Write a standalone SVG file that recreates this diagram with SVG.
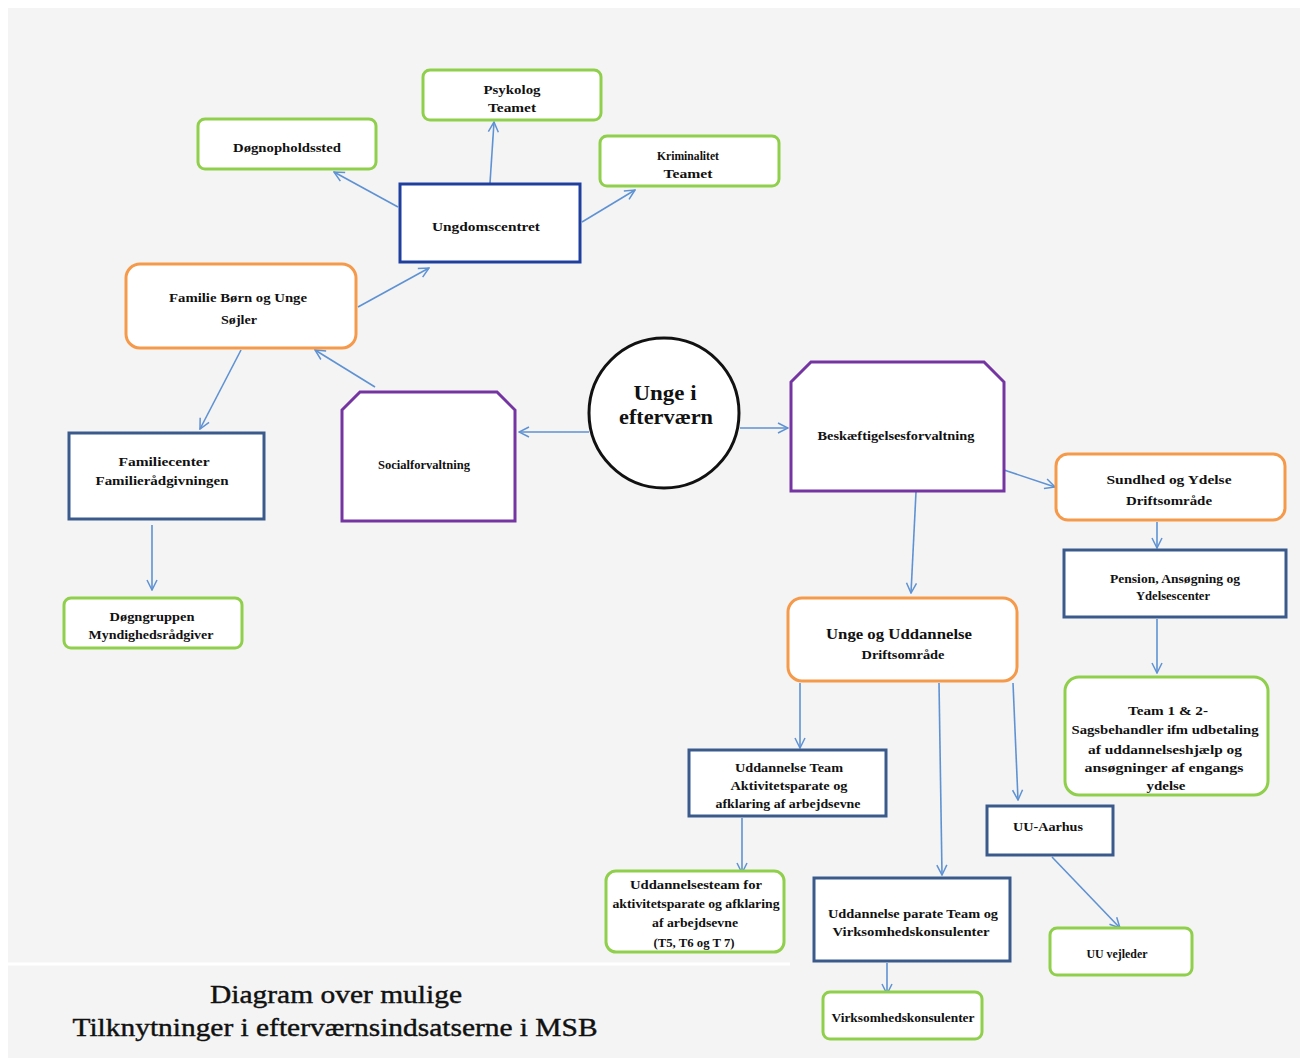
<svg xmlns="http://www.w3.org/2000/svg" width="1306" height="1061" viewBox="0 0 1306 1061">
  <defs>
    <marker id="arr" viewBox="0 0 12 12" refX="11" refY="6" markerWidth="12" markerHeight="12" markerUnits="userSpaceOnUse" orient="auto">
      <path d="M1,1 L11,6 L1,11" fill="none" stroke="#5f92d3" stroke-width="1.5"/>
    </marker>
    <style>
      .bg { fill: #f4f4f4; }
      .green { fill: #ffffff; stroke: #8fcf4c; stroke-width: 3; }
      .orange { fill: #ffffff; stroke: #f59a4a; stroke-width: 3; }
      .purple { fill: #ffffff; stroke: #7434a2; stroke-width: 3; }
      .navy { fill: #ffffff; stroke: #1f3f9e; stroke-width: 3; }
      .steel { fill: #ffffff; stroke: #3a5a8c; stroke-width: 3; }
      .circ { fill: #ffffff; stroke: #111111; stroke-width: 3; }
      text { font-family: "Liberation Serif", "Times New Roman", serif; font-weight: bold; font-size: 13px; fill: #111111; text-anchor: middle; }
      .big { font-size: 20px; }
      .mid { font-size: 15px; }
      .title { font-size: 25px; font-weight: normal; stroke: #111111; stroke-width: 0.4; }
      .conn line, .conn path { stroke: #5f92d3; stroke-width: 1.6; fill: none; marker-end: url(#arr); }
    </style>
  </defs>

  <!-- page background -->
  <rect x="0" y="0" width="1306" height="1061" fill="#ffffff"/>
  <rect class="bg" x="8" y="8" width="1292" height="1050"/>
  <line x1="8" y1="964" x2="790" y2="964" stroke="#ffffff" stroke-width="3"/>

  <!-- connectors -->
  <g id="connectors" class="conn">
    <line x1="398" y1="207" x2="334" y2="172"/>
    <line x1="490" y1="183" x2="494" y2="122"/>
    <line x1="582" y1="222" x2="635" y2="190"/>
    <line x1="358" y1="307" x2="429" y2="268"/>
    <line x1="375" y1="387" x2="315" y2="350"/>
    <line x1="241" y1="350" x2="200" y2="429"/>
    <line x1="152" y1="525" x2="152" y2="590"/>
    <line x1="589" y1="432" x2="519" y2="432"/>
    <line x1="740" y1="428" x2="788" y2="428"/>
    <line x1="1004" y1="470" x2="1055" y2="487"/>
    <line x1="916" y1="492" x2="911" y2="593"/>
    <line x1="1157" y1="522" x2="1157" y2="548"/>
    <line x1="1157" y1="619" x2="1157" y2="673"/>
    <line x1="800" y1="683" x2="800" y2="748"/>
    <line x1="939" y1="683" x2="942" y2="875"/>
    <line x1="1013" y1="683" x2="1018" y2="800"/>
    <line x1="742" y1="818" x2="742" y2="873"/>
    <line x1="887" y1="963" x2="887" y2="994"/>
    <line x1="1052" y1="857" x2="1120" y2="928"/>
  </g>

  <!-- nodes -->
  <g id="doegnophold">
    <rect class="green" x="198" y="119" width="178" height="50" rx="7"/>
    <text x="287" y="152" textLength="108" lengthAdjust="spacingAndGlyphs">Døgnopholdssted</text>
  </g>
  <g id="psykolog">
    <rect class="green" x="423" y="70" width="178" height="50" rx="7"/>
    <text x="512" y="94" textLength="57" lengthAdjust="spacingAndGlyphs">Psykolog</text>
    <text x="512" y="112" textLength="48" lengthAdjust="spacingAndGlyphs">Teamet</text>
  </g>
  <g id="kriminalitet">
    <rect class="green" x="600" y="136" width="179" height="50" rx="7"/>
    <text x="688" y="160" textLength="62" lengthAdjust="spacingAndGlyphs">Kriminalitet</text>
    <text x="688" y="178" textLength="49" lengthAdjust="spacingAndGlyphs">Teamet</text>
  </g>
  <g id="ungdomscentret">
    <rect class="navy" x="400" y="184" width="180" height="78"/>
    <text x="486" y="231" textLength="108" lengthAdjust="spacingAndGlyphs">Ungdomscentret</text>
  </g>
  <g id="familie">
    <rect class="orange" x="126" y="264" width="230" height="84" rx="14"/>
    <text x="238" y="302" textLength="138" lengthAdjust="spacingAndGlyphs">Familie  Børn  og Unge</text>
    <text x="239" y="324" textLength="36" lengthAdjust="spacingAndGlyphs">Søjler</text>
  </g>
  <g id="socialforvaltning">
    <path class="purple" d="M342,410 L360,392 L497,392 L515,410 L515,521 L342,521 Z"/>
    <text x="424" y="469" textLength="92" lengthAdjust="spacingAndGlyphs">Socialforvaltning</text>
  </g>
  <g id="familiecenter">
    <rect class="steel" x="69" y="433" width="195" height="86"/>
    <text x="164" y="466" textLength="91" lengthAdjust="spacingAndGlyphs">Familiecenter</text>
    <text x="162" y="485" textLength="133" lengthAdjust="spacingAndGlyphs">Familierådgivningen</text>
  </g>
  <g id="doegngruppen">
    <rect class="green" x="64" y="598" width="178" height="50" rx="7"/>
    <text x="152" y="621" textLength="85" lengthAdjust="spacingAndGlyphs">Døgngruppen</text>
    <text x="151" y="639" textLength="125" lengthAdjust="spacingAndGlyphs">Myndighedsrådgiver</text>
  </g>
  <g id="unge-i-eftervaern">
    <circle class="circ" cx="664" cy="413" r="75"/>
    <text class="big" x="665" y="400" textLength="63" lengthAdjust="spacingAndGlyphs">Unge  i</text>
    <text class="big" x="666" y="424" textLength="94" lengthAdjust="spacingAndGlyphs">efterværn</text>
  </g>
  <g id="beskaeftigelse">
    <path class="purple" d="M791,382 L811,362 L984,362 L1004,382 L1004,491 L791,491 Z"/>
    <text x="896" y="440" textLength="157" lengthAdjust="spacingAndGlyphs">Beskæftigelsesforvaltning</text>
  </g>
  <g id="sundhed">
    <rect class="orange" x="1056" y="454" width="229" height="66" rx="12"/>
    <text x="1169" y="484" textLength="125" lengthAdjust="spacingAndGlyphs">Sundhed  og  Ydelse</text>
    <text x="1169" y="505" textLength="86" lengthAdjust="spacingAndGlyphs">Driftsområde</text>
  </g>
  <g id="pension">
    <rect class="steel" x="1064" y="550" width="222" height="67"/>
    <text x="1175" y="583" textLength="130" lengthAdjust="spacingAndGlyphs">Pension, Ansøgning  og</text>
    <text x="1173" y="600" textLength="74" lengthAdjust="spacingAndGlyphs">Ydelsescenter</text>
  </g>
  <g id="team12">
    <rect class="green" x="1065" y="677" width="203" height="118" rx="14"/>
    <text x="1168" y="715" textLength="80" lengthAdjust="spacingAndGlyphs">Team 1 &amp; 2-</text>
    <text x="1165" y="734" textLength="187" lengthAdjust="spacingAndGlyphs">Sagsbehandler   ifm udbetaling</text>
    <text x="1165" y="754" textLength="154" lengthAdjust="spacingAndGlyphs">af uddannelseshjælp   og</text>
    <text x="1164" y="772" textLength="159" lengthAdjust="spacingAndGlyphs">ansøgninger   af  engangs</text>
    <text x="1166" y="790" textLength="39" lengthAdjust="spacingAndGlyphs">ydelse</text>
  </g>
  <g id="unge-uddannelse">
    <rect class="orange" x="788" y="598" width="229" height="83" rx="14"/>
    <text class="mid" x="899" y="639" textLength="146" lengthAdjust="spacingAndGlyphs">Unge  og  Uddannelse</text>
    <text x="903" y="659" textLength="83" lengthAdjust="spacingAndGlyphs">Driftsområde</text>
  </g>
  <g id="uddannelse-team">
    <rect class="steel" x="689" y="750" width="197" height="66"/>
    <text x="789" y="772" textLength="108" lengthAdjust="spacingAndGlyphs">Uddannelse Team</text>
    <text x="789" y="790" textLength="117" lengthAdjust="spacingAndGlyphs">Aktivitetsparate og</text>
    <text x="788" y="808" textLength="145" lengthAdjust="spacingAndGlyphs">afklaring af arbejdsevne</text>
  </g>
  <g id="uddannelsesteam">
    <rect class="green" x="606" y="871" width="178" height="81" rx="10"/>
    <text x="696" y="889" textLength="132" lengthAdjust="spacingAndGlyphs">Uddannelsesteam for</text>
    <text x="696" y="908" textLength="167" lengthAdjust="spacingAndGlyphs">aktivitetsparate og afklaring</text>
    <text x="695" y="927" textLength="86" lengthAdjust="spacingAndGlyphs">af arbejdsevne</text>
    <text x="694" y="947" textLength="81" lengthAdjust="spacingAndGlyphs">(T5, T6 og T 7)</text>
  </g>
  <g id="uu-aarhus">
    <rect class="steel" x="987" y="806" width="126" height="49"/>
    <text x="1048" y="831" textLength="70" lengthAdjust="spacingAndGlyphs">UU-Aarhus</text>
  </g>
  <g id="uddannelse-parate">
    <rect class="steel" x="814" y="878" width="196" height="83"/>
    <text x="913" y="918" textLength="170" lengthAdjust="spacingAndGlyphs">Uddannelse parate Team og</text>
    <text x="911" y="936" textLength="157" lengthAdjust="spacingAndGlyphs">Virksomhedskonsulenter</text>
  </g>
  <g id="uu-vejleder">
    <rect class="green" x="1050" y="928" width="142" height="47" rx="7"/>
    <text x="1117" y="958" textLength="61" lengthAdjust="spacingAndGlyphs">UU  vejleder</text>
  </g>
  <g id="virksomhed">
    <rect class="green" x="823" y="992" width="159" height="47" rx="7"/>
    <text x="903" y="1022" textLength="143" lengthAdjust="spacingAndGlyphs">Virksomhedskonsulenter</text>
  </g>

  <!-- caption -->
  <g id="caption">
    <text class="title" x="336" y="1003" textLength="252" lengthAdjust="spacingAndGlyphs">Diagram over mulige</text>
    <text class="title" x="335" y="1036" textLength="525" lengthAdjust="spacingAndGlyphs">Tilknytninger i efterværnsindsatserne i MSB</text>
  </g>
</svg>
